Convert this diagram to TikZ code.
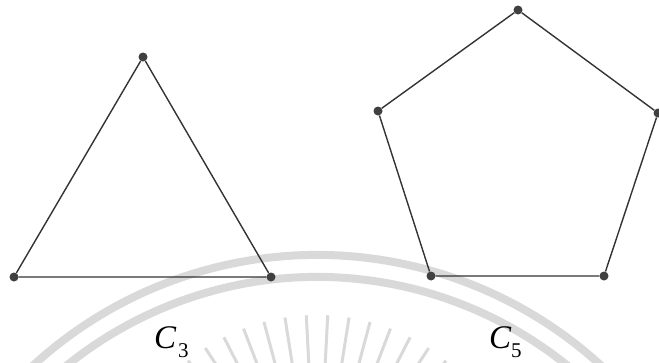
\documentclass[tikz,border=0pt]{standalone}
\usepackage{fontspec}
\setmainfont{Liberation Serif}
\usetikzlibrary{calc}
\begin{document}
\begin{tikzpicture}[x=1pt,y=-1pt,
  edge/.style={draw=black!80,line width=1.4pt},
  vtx/.style={circle,fill=black!75,inner sep=0pt,minimum size=9pt},
  wm/.style={draw=black!15,line width=8pt},
  ray/.style={draw=black!15,line width=3pt},
  lbl/.style={font=\fontsize{33}{35}\selectfont\itshape,inner sep=0pt,anchor=base west},
  sub/.style={font=\fontsize{21}{22}\selectfont,inner sep=0pt,anchor=base west}]
\useasboundingbox (0,0) rectangle (659,362);
\begin{scope}
\clip (0,0) rectangle (659,362);
\coordinate (wc) at (317,675);
\draw[wm] (wc) ++(-20:420) arc[start angle=-20,end angle=-160,radius=420];
\draw[wm] (wc) ++(-20:398) arc[start angle=-20,end angle=-160,radius=398];
\foreach \a in {-45,-51,...,-135}{
  \draw[ray] ($(317,520)+(\a:150)$) -- ($(317,520)+(\a:205)$);
}
\end{scope}
% C3
\node[vtx] (t1) at (143,57) {};
\node[vtx] (t2) at (14,277) {};
\node[vtx] (t3) at (271,277) {};
\draw[edge] (t1) -- (t2) -- (t3) -- (t1);
% C5
\node[vtx] (p1) at (518,10) {};
\node[vtx] (p2) at (378,111) {};
\node[vtx] (p3) at (431,276) {};
\node[vtx] (p4) at (604,276) {};
\node[vtx] (p5) at (658,113) {};
\draw[edge] (p1) -- (p2) -- (p3) -- (p4) -- (p5) -- (p1);
\node[lbl] (c3) at (154,348) {C};
\node[sub] (c3s) at (178,357) {3};
\node[lbl] (c5) at (489,348) {C};
\node[sub] (c5s) at (511,357) {5};
\end{tikzpicture}
\end{document}
